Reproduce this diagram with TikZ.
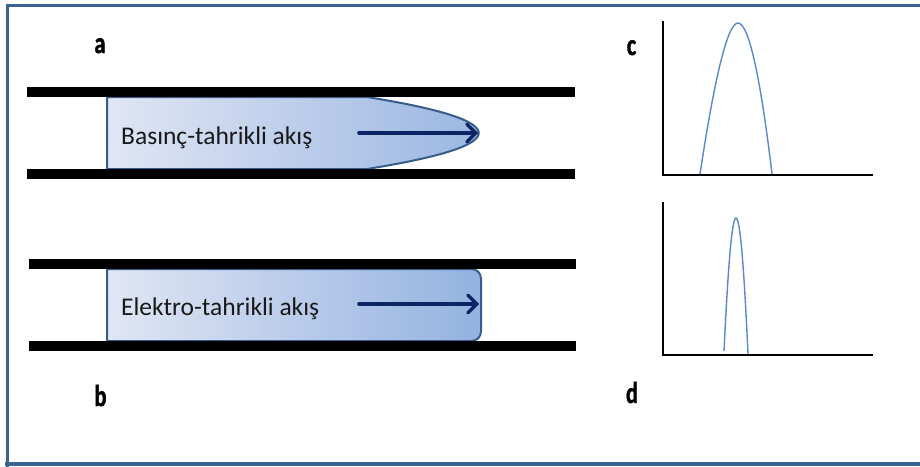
\documentclass[tikz,border=0pt]{standalone}
\usepackage{fontspec}
\setmainfont{Carlito}
\newfontfamily\panelfont{Carlito}[BoldFeatures={FakeBold=1.6}]
\usetikzlibrary{arrows.meta}
\definecolor{frameblue}{RGB}{59,99,144}
\definecolor{fluidL}{RGB}{224,230,244}
\definecolor{fluidR}{RGB}{148,178,224}
\definecolor{fluidline}{RGB}{56,93,138}
\definecolor{navy}{RGB}{10,36,100}
\definecolor{curveblue}{RGB}{88,138,202}
\tikzset{
  bar/.style={fill=black, draw=none},
  fluid/.style={left color=fluidL, right color=fluidR},
  fluidedge/.style={draw=fluidline, line width=2pt},
  flowarrow/.style={draw=navy, line width=3.6pt, line cap=round, -{Straight Barb[length=9pt,width=18pt,line width=3.2pt,line cap=round]}},
  axis/.style={draw=black, line width=2.4pt},
  peak/.style={draw=curveblue, line width=1.4pt},
  flowtext/.style={anchor=base west, inner sep=0pt, font=\fontsize{25.5}{30}\selectfont, text=black!90},
  panel/.style={anchor=base, inner sep=0pt, font=\panelfont\fontsize{30}{34}\selectfont\bfseries},
}
\begin{document}
\begin{tikzpicture}[x=1pt, y=-1pt]
\useasboundingbox (0,0) rectangle (920,466);
\fill[white] (0,0) rectangle (920,466);
% frame
\draw[frameblue, line width=3pt] (7,470) -- (7,5.5) -- (925,5.5);
\draw[frameblue, line width=3.5pt] (5,464) -- (925,464);
% ---- pipe a
\path[fluid] (107,97) -- (367,97) .. controls (516,121) and (516,145) .. (367,169) -- (107,169) -- cycle;
\draw[fluidedge] (340,97) -- (367,97) .. controls (516,121) and (516,145) .. (367,169) -- (107,169) -- (107,97) -- (367,97);
\fill[bar] (27,87) rectangle (575,97);
\fill[bar] (27,169) rectangle (575,179);
\node[flowtext] (ta) at (121,144) {Basınç-tahrikli akış};
\coordinate (a1) at (359,133);
\coordinate (a2) at (478,133);
\draw[flowarrow] (a1) -- (a2);
% ---- pipe b
\path[fluid] (107,269) -- (471,269) .. controls (477,269) and (481,273) .. (481,279) -- (481,331) .. controls (481,337) and (477,341) .. (471,341) -- (107,341) -- cycle;
\draw[fluidedge] (107,269) -- (471,269) .. controls (477,269) and (481,273) .. (481,279) -- (481,331) .. controls (481,337) and (477,341) .. (471,341) -- (107,341) -- cycle;
\fill[bar] (29,259) rectangle (576,269);
\fill[bar] (29,341) rectangle (576,351);
\node[flowtext] (tb) at (121,315) {Elektro-tahrikli akış};
\coordinate (b1) at (359,304);
\coordinate (b2) at (479,304);
\draw[flowarrow] (b1) -- (b2);
% ---- labels
\node[panel] (la) at (100,53) {\scalebox{0.75}[1]{a}};
\node[panel] (lb) at (100.5,406) {\scalebox{0.75}[1]{b}};
\node[panel] (lc) at (631.5,55) {\scalebox{0.75}[1]{c}};
\node[panel] (ld) at (632,403) {\scalebox{0.75}[1]{d}};
% ---- graph c
\coordinate (cy) at (663,21);
\coordinate (co) at (663,175);
\coordinate (cx) at (873,175);
\draw[axis] (cy) -- (co) -- (cx);
\draw[peak] (700,174) .. controls (712,95) and (726,23) .. (738,23) .. controls (750,23) and (762,90) .. (772,174);
% ---- graph d
\coordinate (dy) at (663,202);
\coordinate (do) at (663,355);
\coordinate (dx) at (873,355);
\draw[axis] (dy) -- (do) -- (dx);
\draw[peak] (724,351) .. controls (727,290) and (731,218) .. (736,218) .. controls (741,218) and (745,290) .. (748,354);
\end{tikzpicture}
\end{document}
